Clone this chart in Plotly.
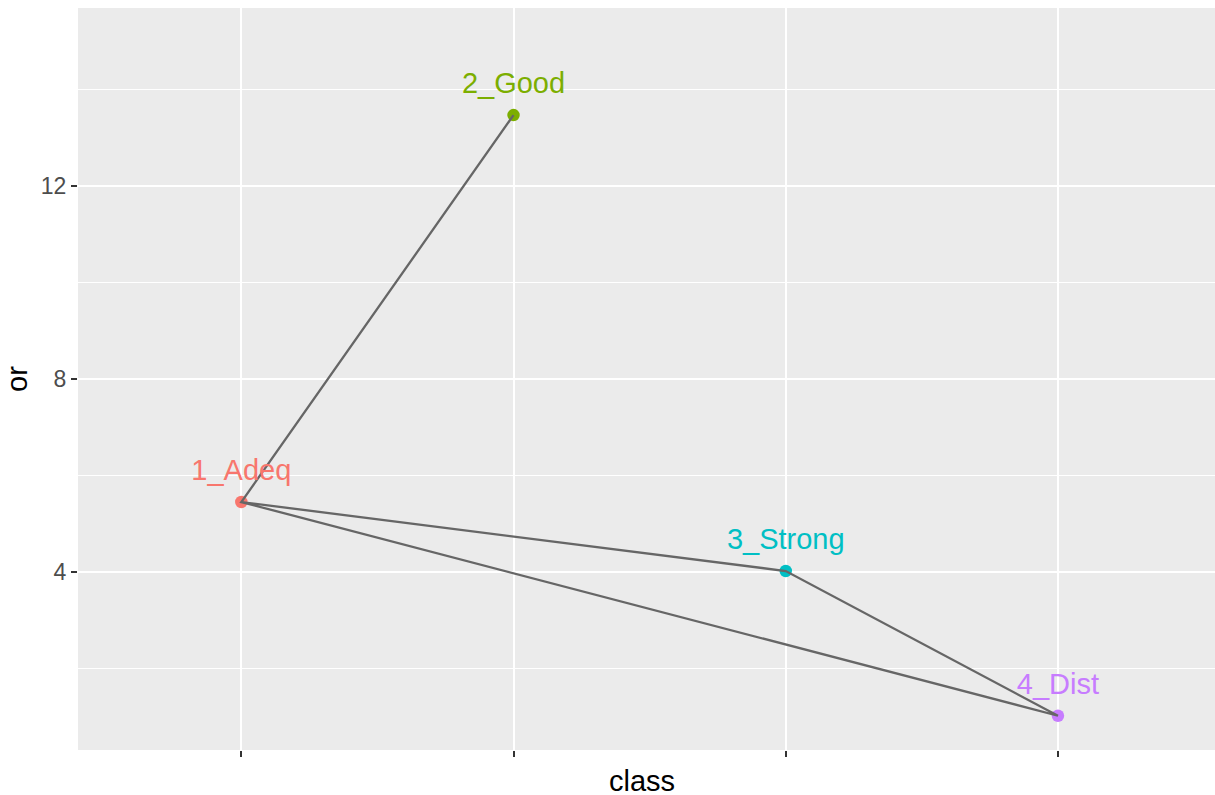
import plotly.graph_objects as go

classes = ["1_Adeq", "2_Good", "3_Strong", "4_Dist"]
or_values = [5.45, 13.47, 4.02, 1.02]
colors = ["#F8766D", "#7CAE00", "#00BFC4", "#C77CFF"]
# path order through the classes (indices into classes)
path_order = [1, 0, 2, 3, 0]
label_nudge = 0.6

x_pos = list(range(len(classes)))
FONT = "Liberation Sans, Arial, Helvetica, sans-serif"

fig = go.Figure()
# points (under the line)
fig.add_trace(go.Scatter(
    x=x_pos, y=or_values, mode="markers",
    marker=dict(color=colors, size=12.5, line=dict(width=0)),
    showlegend=False, hoverinfo="skip"))
# path
fig.add_trace(go.Scatter(
    x=[x_pos[i] for i in path_order], y=[or_values[i] for i in path_order],
    mode="lines", line=dict(color="#666666", width=2.3),
    showlegend=False, hoverinfo="skip"))
# labels
fig.add_trace(go.Scatter(
    x=x_pos, y=[v + label_nudge for v in or_values], mode="text",
    text=classes, textposition="middle center",
    textfont=dict(family=FONT, size=29, color=colors),
    showlegend=False, hoverinfo="skip"))

fig.update_layout(
    width=1215, height=795,
    margin=dict(l=78, r=0, t=8, b=45, autoexpand=False),
    paper_bgcolor="white", plot_bgcolor="#EBEBEB",
    font=dict(family=FONT),
    xaxis=dict(
        range=[-0.6, 3.577], tickvals=x_pos, ticktext=["", "", "", ""],
        showgrid=True, gridcolor="white", gridwidth=2.2, zeroline=False,
        ticks="outside", ticklen=6, tickwidth=2, tickcolor="#333333",
        automargin=False, showline=False,
    ),
    yaxis=dict(
        range=[0.31, 15.69], tickvals=[4, 8, 12], ticktext=["4", "8", "12"],
        showgrid=True, gridcolor="white", gridwidth=2.2, zeroline=False,
        ticks="outside", ticklen=6, tickwidth=2, tickcolor="#333333",
        tickfont=dict(size=23, color="#4D4D4D"),
        minor=dict(tickvals=[2, 6, 10, 14], showgrid=True, gridcolor="white", gridwidth=1.1, ticks=""),
        automargin=False, showline=False,
    ),
    annotations=[
        dict(text="class", xref="paper", yref="paper", x=(642 - 78) / 1137, y=0, yshift=-31,
             xanchor="center", yanchor="middle", showarrow=False,
             font=dict(size=29, color="black")),
        dict(text="or", xref="paper", yref="paper", x=0, y=0.5, xshift=-61,
             xanchor="center", yanchor="middle", textangle=-90, showarrow=False,
             font=dict(size=29, color="black")),
    ],
)

fig.write_html("out.html", config={"displayModeBar": False},
               post_script="document.body.style.margin='0';document.body.style.padding='0';")
